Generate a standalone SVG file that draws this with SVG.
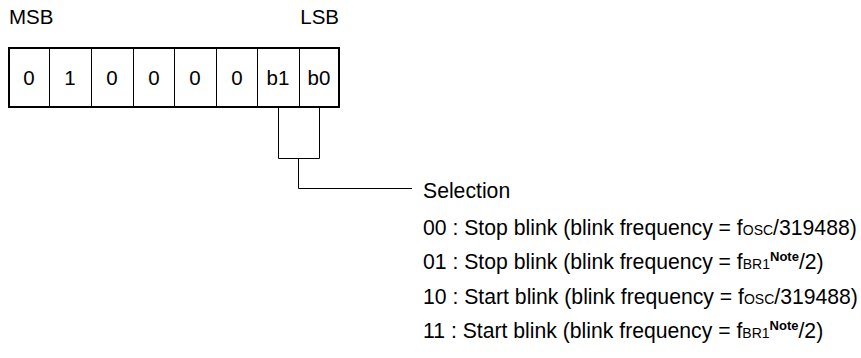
<svg xmlns="http://www.w3.org/2000/svg" width="861" height="358" viewBox="0 0 861 358">
<style>
text{font-family:"Liberation Sans",Arial,sans-serif;font-size:20.5px;fill:#000}
.t{font-size:21.2px}
.c{text-anchor:middle}
.s{font-size:14px}
.n{font-size:13px;font-weight:bold}
.ln{fill:none;stroke:#000;stroke-width:1}
</style>
<rect width="861" height="358" fill="#fff"/>
<g id="labels">
<text x="9" y="24">MSB</text>
<text x="339" y="24" text-anchor="end">LSB</text>
</g>
<g id="register">
<rect x="9" y="48" width="330" height="59" fill="#fff" stroke="#000" stroke-width="2"/>
<path class="ln" d="M49.5 48V107M91.5 48V107M133.5 48V107M174.5 48V107M216.5 48V107M257.5 48V107M299.5 48V107"/>
<text class="c" x="29" y="85">0</text>
<text class="c" x="70" y="85">1</text>
<text class="c" x="112" y="85">0</text>
<text class="c" x="154" y="85">0</text>
<text class="c" x="195" y="85">0</text>
<text class="c" x="237" y="85">0</text>
<text class="c" x="278" y="85">b1</text>
<text class="c" x="319" y="85">b0</text>
</g>
<g id="connectors">
<path class="ln" d="M278.5 108V158.5H319.5V108M298.5 158.5V188.5H412"/>
</g>
<g id="selection">
<text class="t" x="423" y="198">Selection</text>
<text class="t" x="423" y="235">00 : Stop blink (blink frequency = f<tspan class="s">OSC</tspan>/319488)</text>
<text class="t" x="423" y="269">01 : Stop blink (blink frequency = f<tspan class="s">BR1</tspan><tspan class="n" dy="-8">Note</tspan><tspan dy="8">/2)</tspan></text>
<text class="t" x="423" y="304">10 : Start blink (blink frequency = f<tspan class="s">OSC</tspan>/319488)</text>
<text class="t" x="423" y="338">11 : Start blink (blink frequency = f<tspan class="s">BR1</tspan><tspan class="n" dy="-8">Note</tspan><tspan dy="8">/2)</tspan></text>
</g>
</svg>
